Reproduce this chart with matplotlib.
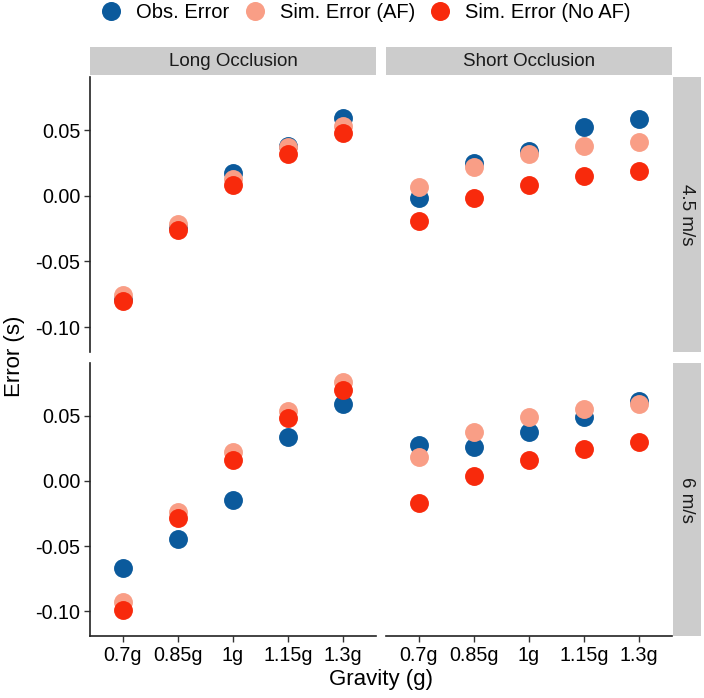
import matplotlib
matplotlib.use("Agg")
import matplotlib.pyplot as plt
from matplotlib.lines import Line2D

plt.rcParams['font.family'] = ['Liberation Sans', 'DejaVu Sans']

gravity = ["0.7g", "0.85g", "1g", "1.15g", "1.3g"]
occlusions = ["Long Occlusion", "Short Occlusion"]
speeds = ["4.5 m/s", "6 m/s"]
series = ["Obs. Error", "Sim. Error (AF)", "Sim. Error (No AF)"]
colors = ["#0B5A9C", "#F99E86", "#F82A0C"]

long_45_obs = [-0.079, -0.024, 0.0176, 0.038, 0.0595]
long_45_af = [-0.0756, -0.0216, 0.013, 0.037, 0.053]
long_45_noaf = [-0.080, -0.026, 0.0084, 0.032, 0.048]
short_45_obs = [-0.0015, 0.025, 0.034, 0.0527, 0.0588]
short_45_af = [0.0069, 0.022, 0.032, 0.038, 0.041]
short_45_noaf = [-0.019, -0.0015, 0.0084, 0.015, 0.019]
long_6_obs = [-0.0666, -0.0444, -0.0145, 0.0337, 0.059]
long_6_af = [-0.0926, -0.0237, 0.022, 0.0536, 0.0757]
long_6_noaf = [-0.0987, -0.0283, 0.016, 0.048, 0.0696]
short_6_obs = [0.0275, 0.026, 0.0375, 0.049, 0.061]
short_6_af = [0.018, 0.0375, 0.049, 0.055, 0.059]
short_6_noaf = [-0.017, 0.0038, 0.016, 0.0245, 0.030]

data = {
    (0, 0): [long_45_obs, long_45_af, long_45_noaf],
    (0, 1): [short_45_obs, short_45_af, short_45_noaf],
    (1, 0): [long_6_obs, long_6_af, long_6_noaf],
    (1, 1): [short_6_obs, short_6_af, short_6_noaf],
}

W, H = 704, 698
fig = plt.figure(figsize=(W / 100, H / 100), dpi=100)

def fx(px):
    return px / W

def fy(py):
    return 1 - py / H

col_x = [(90, 376), (386, 672)]
row_y = [(77, 352), (363, 636)]
ylim = (-0.119, 0.0905)
xpos = list(range(len(gravity)))

for r in range(2):
    for c in range(2):
        x0, x1 = col_x[c]
        y0, y1 = row_y[r]
        ax = fig.add_axes([fx(x0), fy(y1), fx(x1 - x0), (y1 - y0) / H])
        for s in range(3):
            ax.scatter(xpos, data[(r, c)][s], s=185, color=colors[s],
                       linewidths=0, zorder=2 + s)
        ax.set_xlim(-0.6, 4.6)
        ax.set_ylim(*ylim)
        ax.set_yticks([-0.10, -0.05, 0.00, 0.05])
        ax.set_xticks(xpos)
        for sp in ax.spines.values():
            sp.set_visible(False)
        ax.tick_params(length=4, width=1.0, color="#333333", labelsize=14.2,
                       labelcolor="black", pad=3)
        if c == 0:
            ax.spines['left'].set_visible(True)
            ax.spines['left'].set_linewidth(1.2)
            ax.spines['left'].set_color("#222222")
            ax.set_yticklabels(["-0.10", "-0.05", "0.00", "0.05"])
        else:
            ax.tick_params(axis='y', left=False, labelleft=False)
        if r == 1:
            ax.spines['bottom'].set_visible(True)
            ax.spines['bottom'].set_linewidth(1.2)
            ax.spines['bottom'].set_color("#222222")
            ax.set_xticklabels(gravity)
        else:
            ax.tick_params(axis='x', bottom=False, labelbottom=False)

for c in range(2):
    x0, x1 = col_x[c]
    sax = fig.add_axes([fx(x0), fy(75), fx(x1 - x0), 28 / H])
    sax.set_facecolor("#CCCCCC")
    sax.set_xticks([]); sax.set_yticks([])
    for sp in sax.spines.values():
        sp.set_visible(False)
    sax.text(0.5, 0.5, occlusions[c], ha='center', va='center', fontsize=13.5,
             transform=sax.transAxes, color="#1A1A1A")

for r in range(2):
    y0, y1 = row_y[r]
    sax = fig.add_axes([fx(673), fy(y1), fx(28), (y1 - y0) / H])
    sax.set_facecolor("#CCCCCC")
    sax.set_xticks([]); sax.set_yticks([])
    for sp in sax.spines.values():
        sp.set_visible(False)
    sax.text(0.5, 0.5, speeds[r], ha='center', va='center', fontsize=13.5,
             rotation=-90, transform=sax.transAxes, color="#1A1A1A")

fig.text(fx(381), fy(680), "Gravity (g)", ha='center', va='center', fontsize=16)
fig.text(fx(15), fy(356), "Error (s)", ha='center', va='center', fontsize=16,
         rotation=90)

handles = [Line2D([], [], marker='o', linestyle='', markersize=13.7,
                  markerfacecolor=col, markeredgewidth=0) for col in colors]
fig.legend(handles, series, loc='center', bbox_to_anchor=(fx(366), fy(13)),
           ncol=3, frameon=False, fontsize=14.5, handlelength=1.0,
           handletextpad=0.75, columnspacing=0.75, borderaxespad=0,
           borderpad=0)

fig.savefig("out.png", dpi=100)
